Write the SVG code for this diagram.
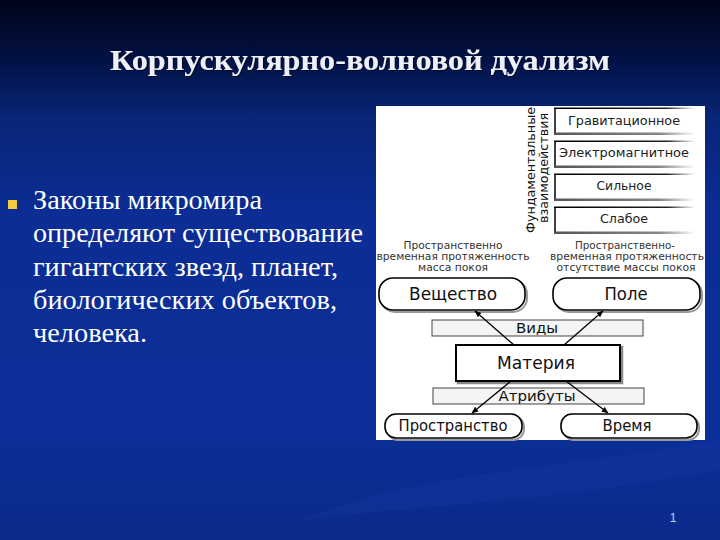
<svg xmlns="http://www.w3.org/2000/svg" width="720" height="540" viewBox="0 0 720 540">
<defs>
<linearGradient id="bg" x1="0" y1="0" x2="0" y2="1">
<stop offset="0" stop-color="#00051a"/>
<stop offset="0.1" stop-color="#021040"/>
<stop offset="0.22" stop-color="#082577"/>
<stop offset="0.4" stop-color="#0b2d95"/>
<stop offset="0.8" stop-color="#0b2e98"/>
<stop offset="1" stop-color="#0a2a8a"/>
</linearGradient>
<linearGradient id="fadeTop" x1="0" y1="0" x2="1" y2="0">
<stop offset="0" stop-color="#000"/>
<stop offset="0.8" stop-color="#222"/>
<stop offset="1" stop-color="#fff"/>
</linearGradient>
<linearGradient id="fadeBot" x1="0" y1="0" x2="1" y2="0">
<stop offset="0" stop-color="#555"/>
<stop offset="0.75" stop-color="#888"/>
<stop offset="1" stop-color="#fff"/>
</linearGradient>
<marker id="ah" viewBox="0 0 10 10" refX="9" refY="5" markerWidth="7" markerHeight="7" orient="auto" markerUnits="userSpaceOnUse">
<path d="M0,1 L10,5 L0,9 z" fill="#000"/>
</marker>
<filter id="tsh" x="-5%" y="-20%" width="110%" height="140%">
<feDropShadow dx="1" dy="1" stdDeviation="0.5" flood-color="#000" flood-opacity="0.6"/>
</filter>
</defs>
<style>
.dj{font-family:"DejaVu Sans","Liberation Sans",sans-serif;fill:#111;text-anchor:middle}
.sm{font-size:10px;fill:#333}
.fb{font-size:13px;fill:#222}
.big{font-size:17px}
.bar{fill:#f4f4f4;stroke:#444;stroke-width:1}
.rnd{fill:#fff;stroke:#000;stroke-width:1.6}
.shd{fill:none;stroke:#999;stroke-width:2}
.body{font-family:"Liberation Serif","Times New Roman",serif;font-size:27px;fill:#fff}
.con{stroke:#000;stroke-width:1.3;fill:none;marker-end:url(#ah)}
</style>
<rect width="720" height="540" fill="url(#bg)"/>
<path d="M300,520 C420,470 560,470 720,440 L720,470 C560,500 430,505 300,520 z" fill="#1a3aa8" opacity="0.25"/>

<text id="title" x="360" y="70" text-anchor="middle" font-family="Liberation Serif,'Times New Roman',serif" font-weight="bold" font-size="29" fill="#eef0f8" textLength="500" lengthAdjust="spacingAndGlyphs" filter="url(#tsh)">Корпускулярно-волновой дуализм</text>

<g id="bullet-text">
<rect x="8" y="200" width="9" height="9" fill="#f2cc3a"/>
<text class="body" x="33" y="209" textLength="229" lengthAdjust="spacingAndGlyphs">Законы микромира</text>
<text class="body" x="33" y="242" textLength="330" lengthAdjust="spacingAndGlyphs">определяют существование</text>
<text class="body" x="33" y="276" textLength="305" lengthAdjust="spacingAndGlyphs">гигантских звезд, планет,</text>
<text class="body" x="33" y="309" textLength="304" lengthAdjust="spacingAndGlyphs">биологических объектов,</text>
<text class="body" x="33" y="342" textLength="114" lengthAdjust="spacingAndGlyphs">человека.</text>
</g>

<text id="page-num" x="673" y="522" text-anchor="middle" font-family="Liberation Sans,Arial,sans-serif" font-size="12" fill="#c8d0f0">1</text>

<g id="panel">
<rect x="376" y="106" width="329" height="334" fill="#fff"/>
</g>

<g id="fund-label">
<text class="dj" transform="translate(535,170) rotate(-90)" font-size="13" fill="#222" textLength="126" lengthAdjust="spacingAndGlyphs">Фундаментальные</text>
<text class="dj" transform="translate(548,168) rotate(-90)" font-size="12" fill="#222" textLength="110" lengthAdjust="spacingAndGlyphs">взаимодействия</text>
</g>

<g id="grav">
<rect x="554" y="108" width="141" height="26" fill="#fff"/>
<line x1="555" y1="108" x2="555" y2="134" stroke="#000" stroke-width="1.5"/>
<rect x="554" y="107.5" width="141" height="1.5" fill="url(#fadeTop)"/>
<rect x="554" y="132.5" width="141" height="2.5" fill="url(#fadeBot)"/>
<text class="dj fb" x="624" y="125" textLength="112" lengthAdjust="spacingAndGlyphs">Гравитационное</text>
</g>
<g id="electro">
<rect x="554" y="141" width="141" height="26" fill="#fff"/>
<line x1="555" y1="141" x2="555" y2="167" stroke="#000" stroke-width="1.5"/>
<rect x="554" y="140.5" width="141" height="1.5" fill="url(#fadeTop)"/>
<rect x="554" y="165.5" width="141" height="2.5" fill="url(#fadeBot)"/>
<text class="dj fb" x="624" y="157" textLength="130" lengthAdjust="spacingAndGlyphs">Электромагнитное</text>
</g>
<g id="strong">
<rect x="554" y="174" width="141" height="26" fill="#fff"/>
<line x1="555" y1="174" x2="555" y2="200" stroke="#000" stroke-width="1.5"/>
<rect x="554" y="173.5" width="141" height="1.5" fill="url(#fadeTop)"/>
<rect x="554" y="198.5" width="141" height="2.5" fill="url(#fadeBot)"/>
<text class="dj fb" x="624" y="190" textLength="55" lengthAdjust="spacingAndGlyphs">Сильное</text>
</g>
<g id="weak">
<rect x="554" y="207" width="141" height="26" fill="#fff"/>
<line x1="555" y1="207" x2="555" y2="233" stroke="#000" stroke-width="1.5"/>
<rect x="554" y="206.5" width="141" height="1.5" fill="url(#fadeTop)"/>
<rect x="554" y="231.5" width="141" height="2.5" fill="url(#fadeBot)"/>
<text class="dj fb" x="624" y="223" textLength="48" lengthAdjust="spacingAndGlyphs">Слабое</text>
</g>

<g id="substance-desc">
<text class="dj sm" x="453" y="249" textLength="99" lengthAdjust="spacingAndGlyphs">Пространственно</text>
<text class="dj sm" x="453" y="260" textLength="153" lengthAdjust="spacingAndGlyphs">временная протяженность</text>
<text class="dj sm" x="453" y="271" textLength="70" lengthAdjust="spacingAndGlyphs">масса покоя</text>
</g>
<g id="field-desc">
<text class="dj sm" x="625" y="249" textLength="100" lengthAdjust="spacingAndGlyphs">Пространственно-</text>
<text class="dj sm" x="627" y="260" textLength="154" lengthAdjust="spacingAndGlyphs">временная протяженность</text>
<text class="dj sm" x="626" y="271" textLength="139" lengthAdjust="spacingAndGlyphs">отсутствие массы покоя</text>
</g>

<g id="substance">
<rect class="shd" x="381" y="280" width="146" height="32" rx="14"/>
<rect class="rnd" x="379" y="278" width="146" height="32" rx="14"/>
<text class="dj big" x="453" y="300" textLength="88" lengthAdjust="spacingAndGlyphs">Вещество</text>
</g>
<g id="field">
<rect class="shd" x="555" y="280" width="147" height="32" rx="14"/>
<rect class="rnd" x="553" y="278" width="147" height="32" rx="14"/>
<text class="dj big" x="626" y="300" textLength="43" lengthAdjust="spacingAndGlyphs">Поле</text>
</g>

<g id="kinds">
<rect class="bar" x="432" y="320" width="211" height="16"/>
<text class="dj" x="537" y="333" font-size="14" textLength="42" lengthAdjust="spacingAndGlyphs">Виды</text>
</g>

<g id="matter">
<rect x="458" y="347" width="164" height="36" fill="none" stroke="#888" stroke-width="2.5"/>
<rect x="456" y="345" width="164" height="36" fill="#fff" stroke="#000" stroke-width="2"/>
<text class="dj big" x="536" y="369" textLength="78" lengthAdjust="spacingAndGlyphs">Материя</text>
</g>

<g id="attrs">
<rect class="bar" x="433" y="388" width="211" height="16"/>
<text class="dj" x="537" y="401" font-size="14" textLength="77" lengthAdjust="spacingAndGlyphs">Атрибуты</text>
</g>

<g id="space">
<rect class="shd" x="387" y="416" width="137" height="24" rx="11"/>
<rect class="rnd" x="385" y="414" width="137" height="24" rx="11"/>
<text class="dj" x="453" y="431" font-size="15" textLength="109" lengthAdjust="spacingAndGlyphs">Пространство</text>
</g>
<g id="time">
<rect class="shd" x="563" y="416" width="136" height="24" rx="11"/>
<rect class="rnd" x="561" y="414" width="136" height="24" rx="11"/>
<text class="dj" x="627" y="431" font-size="15" textLength="49" lengthAdjust="spacingAndGlyphs">Время</text>
</g>

<g id="connectors">
<line class="con" x1="514" y1="345" x2="475" y2="311"/>
<line class="con" x1="564" y1="345" x2="603" y2="311"/>
<line class="con" x1="511" y1="381" x2="472" y2="413"/>
<line class="con" x1="566" y1="381" x2="608" y2="413"/>
</g>
</svg>
